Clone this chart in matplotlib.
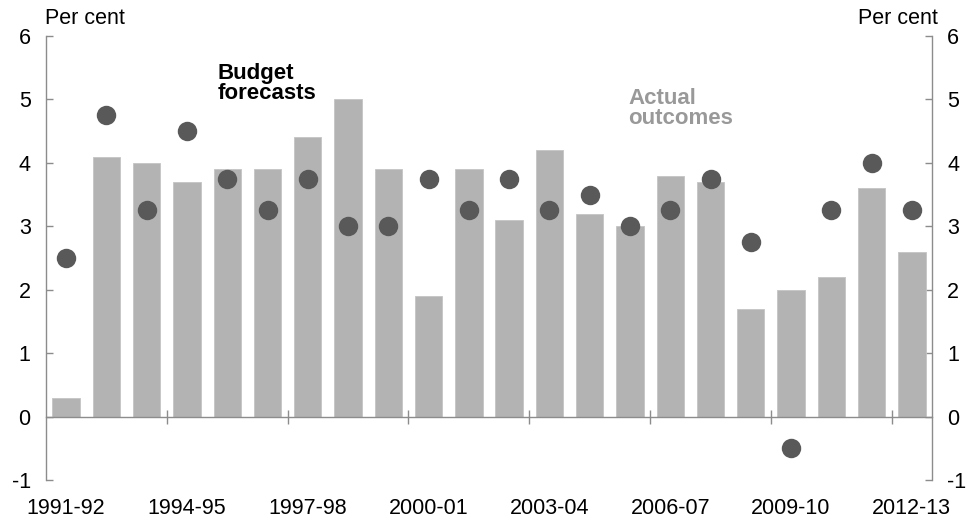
import matplotlib
matplotlib.use("Agg")
import matplotlib.pyplot as plt
import numpy as np

plt.rcParams['font.family'] = ['Liberation Sans', 'DejaVu Sans']

years = ["1991-92", "1992-93", "1993-94", "1994-95", "1995-96", "1996-97",
         "1997-98", "1998-99", "1999-00", "2000-01", "2001-02", "2002-03",
         "2003-04", "2004-05", "2005-06", "2006-07", "2007-08", "2008-09",
         "2009-10", "2010-11", "2011-12", "2012-13"]
actual_outcomes = [0.3, 4.1, 4.0, 3.7, 3.9, 3.9, 4.4, 5.0, 3.9, 1.9, 3.9, 3.1,
                   4.2, 3.2, 3.0, 3.8, 3.7, 1.7, 2.0, 2.2, 3.6, 2.6]
budget_forecasts = [2.5, 4.75, 3.25, 4.5, 3.75, 3.25, 3.75, 3.0, 3.0, 3.75, 3.25,
                    3.75, 3.25, 3.5, 3.0, 3.25, 3.75, 2.75, -0.5, 3.25, 4.0, 3.25]
yticks = [-1, 0, 1, 2, 3, 4, 5, 6]

x = np.arange(len(years))
fig = plt.figure(figsize=(9.72, 5.2), dpi=100)
ax = fig.add_axes([46/972, 40/520, 886/972, 444/520])

spine_col = '#8c8c8c'
ax.bar(x, actual_outcomes, width=0.68, color='#b3b3b3', edgecolor='#c4c4c4',
       linewidth=0.6, zorder=2)
ax.plot(x, budget_forecasts, 'o', color='#595959', markersize=14,
        markeredgewidth=0, zorder=4)

ax.set_xlim(-0.5, len(years) - 0.5)
ax.set_ylim(-1, 6)

# spines
ax.spines['top'].set_visible(False)
ax.spines['bottom'].set_position(('data', 0))
for s in ['left', 'right', 'bottom']:
    ax.spines[s].set_color(spine_col)
    ax.spines[s].set_linewidth(1.0)
ax.spines['bottom'].set_zorder(3)

# y ticks on both sides
ax.set_yticks(yticks)
ax.set_yticklabels([str(v) for v in yticks])
ax.tick_params(axis='y', which='major', direction='in', length=5, width=1.0,
               color=spine_col, labelsize=15.5, labelcolor='black', pad=11,
               left=True, right=True, labelleft=True, labelright=True)

# x ticks: boundaries every 3 categories, crossing the zero line
bounds = np.arange(-0.5 + 3, len(years) - 0.5, 3)
ax.set_xticks(bounds)
ax.set_xticklabels([])
ax.tick_params(axis='x', which='major', direction='inout', length=10, width=1.0,
               color=spine_col)

# category labels at the bottom
sec = ax.secondary_xaxis('bottom')
lab_pos = x[::3]
sec.set_xticks(lab_pos)
sec.set_xticklabels([years[i] for i in lab_pos])
sec.tick_params(length=0, pad=13, labelsize=15.5)
sec.spines['bottom'].set_visible(False)

# Per cent labels
fig.text(45/972, 1 - 24/520, 'Per cent', fontsize=15.5, ha='left', va='baseline')
fig.text(938/972, 1 - 24/520, 'Per cent', fontsize=15.5, ha='right', va='baseline')

# series annotations
ax.text(0.194, 0.94, 'Budget\nforecasts', transform=ax.transAxes, fontsize=16,
        fontweight='bold', color='black', ha='left', va='top', linespacing=0.95)
ax.text(0.657, 0.884, 'Actual\noutcomes', transform=ax.transAxes, fontsize=16,
        fontweight='bold', color='#999999', ha='left', va='top', linespacing=0.95)

fig.savefig('out.png', dpi=100)
